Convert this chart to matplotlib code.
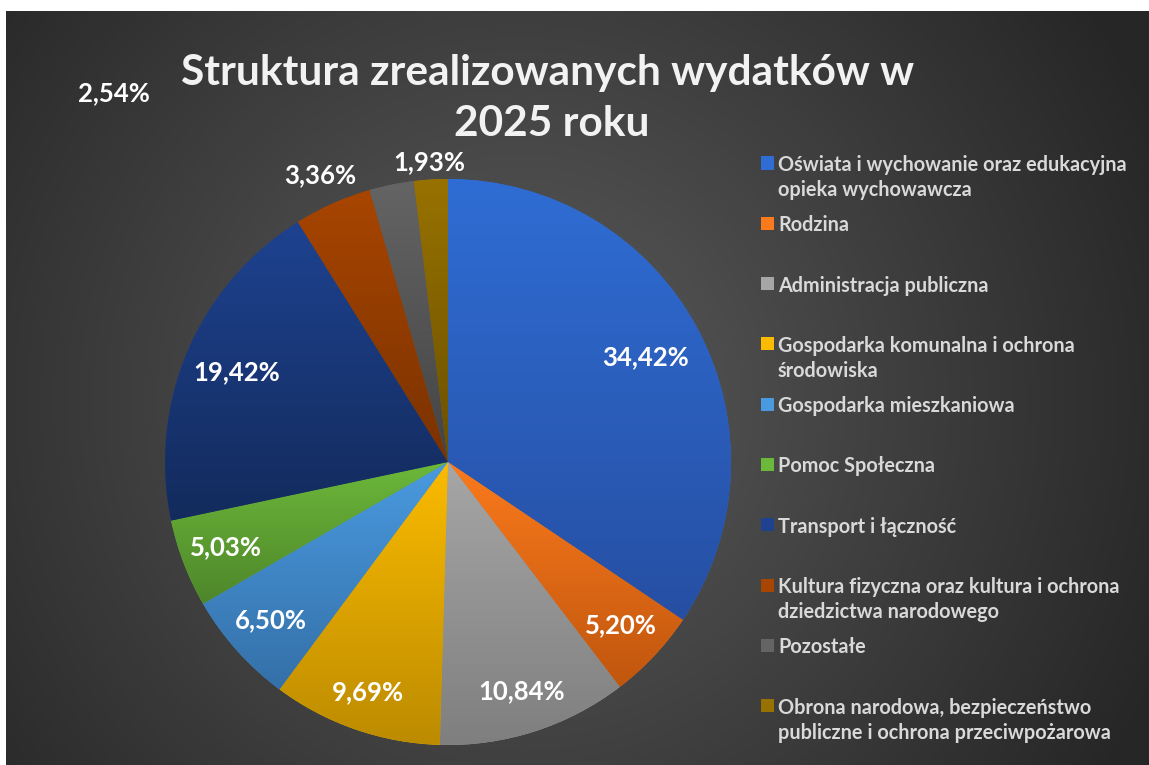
import numpy as np
import matplotlib
matplotlib.use("Agg")
import matplotlib.pyplot as plt
from matplotlib.colors import to_rgb
from matplotlib.patches import Rectangle

plt.rcParams['font.family'] = ['Lato', 'DejaVu Sans']

W, H = 1149, 765

categories = [
    "Oświata i wychowanie oraz edukacyjna\nopieka wychowawcza",
    "Rodzina",
    "Administracja publiczna",
    "Gospodarka komunalna i ochrona\nśrodowiska",
    "Gospodarka mieszkaniowa",
    "Pomoc Społeczna",
    "Transport i łączność",
    "Kultura fizyczna oraz kultura i ochrona\ndziedzictwa narodowego",
    "Pozostałe",
    "Obrona narodowa, bezpieczeństwo\npubliczne i ochrona przeciwpożarowa",
]
# slice sizes as drawn (the Kultura slice is drawn larger than its label says)
shares = [34.42, 5.20, 10.84, 9.69, 6.50, 5.03, 19.42, 4.43, 2.54, 1.93]
# data labels as printed on the chart
share_labels = ["34,42%", "5,20%", "10,84%", "9,69%", "6,50%",
                "5,03%", "19,42%", "3,36%", "2,54%", "1,93%"]

# top / bottom colour of each slice gradient
top_colors = ["#2f6dd4", "#fb7a1c", "#a6a6a6", "#fbbb00", "#4a9ae0",
              "#6cb83a", "#1e4290", "#a84500", "#646464", "#987200"]
bottom_colors = ["#264fa3", "#c0560e", "#7f7f7f", "#bc8b00", "#3470a8",
                 "#4e862a", "#132b5c", "#7a3200", "#444444", "#6a5000"]

# radial distance of each label (fraction of radius)
label_dist = [0.79, 0.84, 0.85, 0.86, 0.84, 0.84, 0.81, 1.11, None, 1.06]


def fx(x):
    return x / W


def fy(y):
    return 1 - y / H


fig = plt.figure(figsize=(W / 100, H / 100), dpi=100, facecolor="white")

# dark radial background
bg = fig.add_axes([fx(6), 0, 1 - fx(6), fy(11)])
bg.set_axis_off()
gx, gy = np.meshgrid(np.arange(6, W), np.arange(11, H))
d = np.clip(np.hypot(gx - 520, gy - 400) / 700, 0, 1)
c0, c1 = np.array(to_rgb("#5c5c5c")), np.array(to_rgb("#262626"))
img = c0[None, None, :] * (1 - d[..., None]) + c1[None, None, :] * d[..., None]
bg.imshow(img, aspect="auto", interpolation="bilinear")

# pie
cx, cy, r = 448, 462, 283
ax = fig.add_axes([fx(cx - r), fy(cy + r), 2 * r / W, 2 * r / H])
ax.set_axis_off()
wedges, _ = ax.pie(shares, startangle=90, counterclock=False,
                   colors=top_colors, wedgeprops=dict(linewidth=0))

for w, ct, cb in zip(wedges, top_colors, bottom_colors):
    ext = w.get_path().get_extents()
    t = np.linspace(0, 1, 128)[:, None]
    grad = np.array(to_rgb(ct)) * (1 - t[..., None]) + np.array(to_rgb(cb)) * t[..., None]
    grad = np.repeat(grad, 2, axis=1)
    im = ax.imshow(grad, extent=[ext.x0, ext.x1, ext.y0, ext.y1], origin="upper",
                   aspect="auto", interpolation="bilinear", zorder=2)
    im.set_clip_path(w)

ax.set_xlim(-1, 1)
ax.set_ylim(-1, 1)
ax.set_aspect("equal")

for w, txt, dist in zip(wedges, share_labels, label_dist):
    if dist is None:
        # this label was dragged away to the top-left corner
        fig.text(fx(114), fy(93), txt, color="white", fontsize=18.5,
                 fontweight="bold", ha="center", va="center")
        continue
    ang = np.deg2rad((w.theta1 + w.theta2) / 2)
    ax.text(dist * np.cos(ang), dist * np.sin(ang), txt, color="white",
            fontsize=18.5, fontweight="bold", ha="center", va="center", zorder=5)

# title
fig.text(fx(548), fy(70), "Struktura zrealizowanych wydatków w",
         color="#f2f2f2", fontsize=30.5, fontweight="bold", ha="center",
         va="center_baseline")
fig.text(fx(552), fy(120), "2025 roku",
         color="#f2f2f2", fontsize=30.5, fontweight="bold", ha="center",
         va="center_baseline")

# legend
for i, (lab, col) in enumerate(zip(categories, top_colors)):
    ly = 163 + i * 60.3
    fig.patches.append(Rectangle((fx(761), fy(ly + 6.5)), 13 / W, 13 / H,
                                 transform=fig.transFigure, facecolor=col,
                                 edgecolor="none"))
    for k, line in enumerate(lab.split("\n")):
        fig.text(fx(778), fy(ly + k * 25), line, color="#d9d9d9",
                 fontsize=14.3, fontweight="bold", ha="left",
                 va="center_baseline")

fig.savefig("out.png", dpi=100, facecolor="white")
